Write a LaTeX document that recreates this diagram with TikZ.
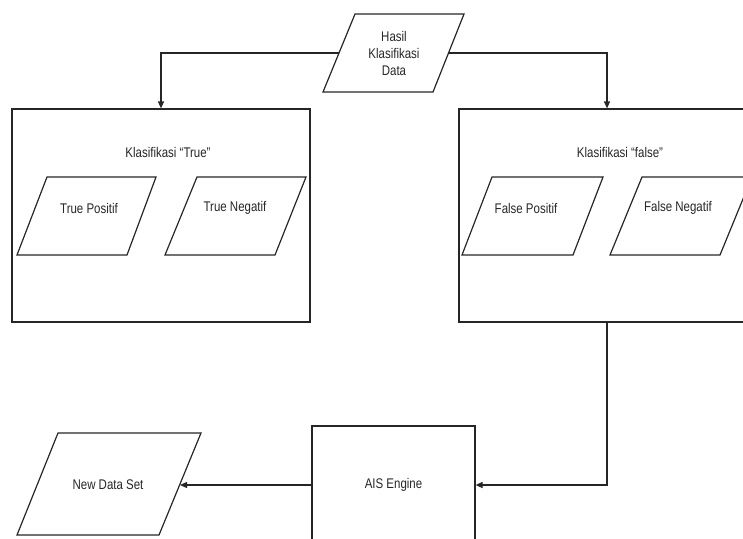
\documentclass[tikz,border=0pt]{standalone}
\usepackage{fontspec}
\setmainfont{Liberation Sans}[FakeStretch=0.82]
\usetikzlibrary{arrows.meta}
\begin{document}
\begin{tikzpicture}[x=1pt,y=-1pt,
  ln/.style={draw=black!85,line width=1.2pt},
  arr/.style={ln,-{Triangle[length=7pt,width=6pt]}},
  lbl/.style={inner sep=0pt,align=center,font=\fontsize{14}{17}\selectfont,text=black!85},
  boxr/.style={ln,rectangle,inner sep=0pt,anchor=center}]
\clip (0,0) rectangle (743,538);
\useasboundingbox (0,0) rectangle (743,538);
% top parallelogram
\draw[ln] (355,14) -- (464,14) -- (433,92) -- (323,92) -- cycle;
\node[lbl] (hasil) at (394,53) {Hasil\\Klasifikasi\\Data};
\coordinate (hasilL) at (339,53);
\coordinate (hasilR) at (448,53);
% containers
\node[boxr,minimum width=298pt,minimum height=213pt] (tbox) at (161,215.5) {};
\node[boxr,minimum width=296pt,minimum height=213pt] (fbox) at (607,215.5) {};
\node[lbl] (ttitle) at (168,152) {Klasifikasi “True”};
\node[lbl] (ftitle) at (620,152) {Klasifikasi “false”};
% inner parallelograms
\draw[ln] (47,177) -- (156,177) -- (127,255) -- (17,255) -- cycle;
\node[lbl] (tp) at (89,208) {True Positif};
\draw[ln] (197,177) -- (306,177) -- (275,255) -- (165,255) -- cycle;
\node[lbl] (tn) at (235,208) {True Negatif};
\draw[ln] (492,177) -- (603,177) -- (573,255) -- (462,255) -- cycle;
\node[lbl] (fp) at (526,208) {False Positif};
\draw[ln] (642,177) -- (752,177) -- (720,255) -- (610,255) -- cycle;
\node[lbl] (fn) at (678,208) {False Negatif};
% AIS engine
\node[boxr,minimum width=163pt,minimum height=118pt] (ais) at (393.5,485) {};
\node[lbl] (aistxt) at (393.5,485) {AIS Engine};
% new data set
\draw[ln] (58,433) -- (201,433) -- (159,535) -- (17,535) -- cycle;
\node[lbl] (nds) at (108,485) {New Data Set};
\coordinate (ndsR) at (180,485);
% connectors
\draw[arr] (hasilL) -| (tbox.north);
\draw[arr] (hasilR) -| (fbox.north);
\draw[arr] (fbox.south) |- (ais.east);
\draw[arr] (ais.west) -- (ndsR);
\end{tikzpicture}
\end{document}
